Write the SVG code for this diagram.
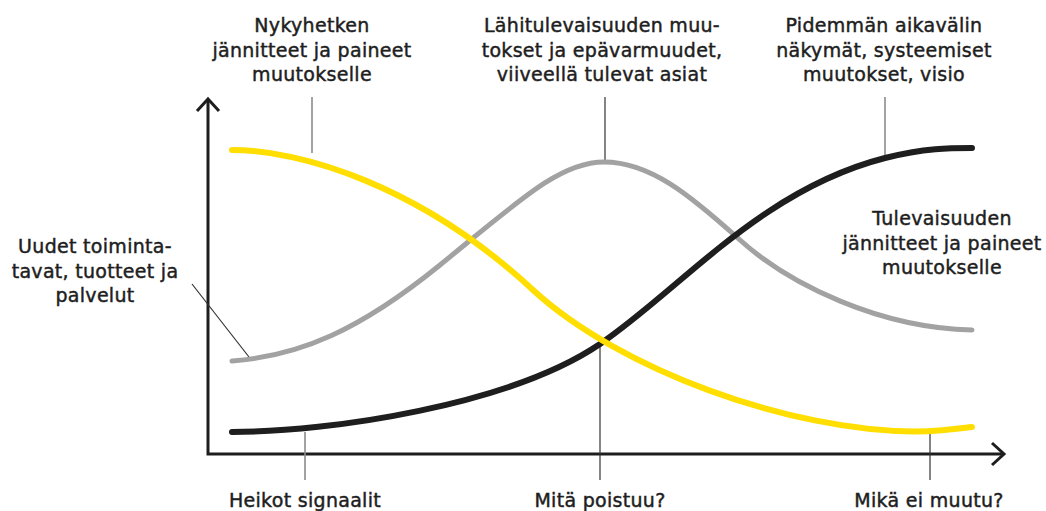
<svg xmlns="http://www.w3.org/2000/svg" width="1046" height="511" viewBox="0 0 1046 511">
  <style>
    .lbl { font-family: "DejaVu Sans", "Liberation Sans", sans-serif; font-size: 19px; letter-spacing: 0.3px; fill: #1e1e1e; stroke: #1e1e1e; stroke-width: 0.45px; text-anchor: middle; }
    .axis { fill: none; stroke: #1e1e1e; stroke-width: 3; stroke-linecap: butt; stroke-linejoin: miter; }
    .curve { fill: none; stroke-linecap: round; stroke-linejoin: round; }
    .yellow { stroke: #FFDE00; stroke-width: 6; }
    .gray { stroke: #A2A2A2; stroke-width: 5; }
    .black { stroke: #1e1e1e; stroke-width: 6; }
    .lead-dark { stroke: #333333; stroke-width: 1.2; fill: none; }
    .lead-gray { stroke: #8c8c8c; stroke-width: 1.6; fill: none; }
  </style>
  <rect width="1046" height="511" fill="#ffffff"/>

  <g id="axes">
    <path class="axis" d="M208,99 L208,454 L1004,454"/>
    <path class="axis" d="M197,111 L208,99 L219,111"/>
    <path class="axis" d="M992,443 L1004,454 L992,465"/>
  </g>

  <g id="connectors">
    <line class="lead-gray" x1="312" y1="97" x2="312" y2="153"/>
    <line class="lead-dark" x1="605" y1="97" x2="605" y2="161"/>
    <line class="lead-gray" x1="885" y1="97" x2="885" y2="157"/>
    <line class="lead-dark" x1="192" y1="284" x2="249" y2="357"/>
    <line class="lead-gray" x1="305" y1="432" x2="305" y2="480"/>
    <line class="lead-dark" x1="600" y1="344" x2="600" y2="480"/>
    <line class="lead-dark" x1="930" y1="432" x2="930" y2="480"/>
  </g>

  <g id="curve-gray">
    <path class="curve gray" d="M232,361 C300,356 360,330 440,265 C520,200 560,162 604,162 C650,162 690,195 740,240 C790,285 880,328 972,330"/>
  </g>
  <g id="curve-black">
    <path class="curve black" d="M232,432 C330,432 510,405 600,344 C680,290 760,190 885,158 C925,148 950,148 972,148"/>
  </g>
  <g id="curve-yellow">
    <path class="curve yellow" d="M232,150 C300,150 420,185 533,290 C620,370 790,431 915,431.5 C940,431.6 956,429 972,427"/>
  </g>

  <g id="node-nykyhetken">
    <text class="lbl" x="312" y="32">Nykyhetken</text>
    <text class="lbl" x="312" y="56.5">jännitteet ja paineet</text>
    <text class="lbl" x="312" y="81">muutokselle</text>
  </g>
  <g id="node-lahitulevaisuus">
    <text class="lbl" x="602" y="32">Lähitulevaisuuden muu-</text>
    <text class="lbl" x="602" y="56.5">tokset ja epävarmuudet,</text>
    <text class="lbl" x="602" y="81">viiveellä tulevat asiat</text>
  </g>
  <g id="node-pidemman">
    <text class="lbl" x="884" y="32">Pidemmän aikavälin</text>
    <text class="lbl" x="884" y="56.5">näkymät, systeemiset</text>
    <text class="lbl" x="884" y="81">muutokset, visio</text>
  </g>
  <g id="node-uudet">
    <text class="lbl" x="95" y="253">Uudet toiminta-</text>
    <text class="lbl" x="95" y="277.5">tavat, tuotteet ja</text>
    <text class="lbl" x="95" y="302">palvelut</text>
  </g>
  <g id="node-tulevaisuuden">
    <text class="lbl" x="942" y="225">Tulevaisuuden</text>
    <text class="lbl" x="942" y="249.5">jännitteet ja paineet</text>
    <text class="lbl" x="942" y="274">muutokselle</text>
  </g>
  <g id="node-heikot">
    <text class="lbl" x="305" y="507">Heikot signaalit</text>
  </g>
  <g id="node-mita">
    <text class="lbl" x="600" y="507">Mitä poistuu?</text>
  </g>
  <g id="node-mika">
    <text class="lbl" x="929" y="507">Mikä ei muutu?</text>
  </g>
</svg>
